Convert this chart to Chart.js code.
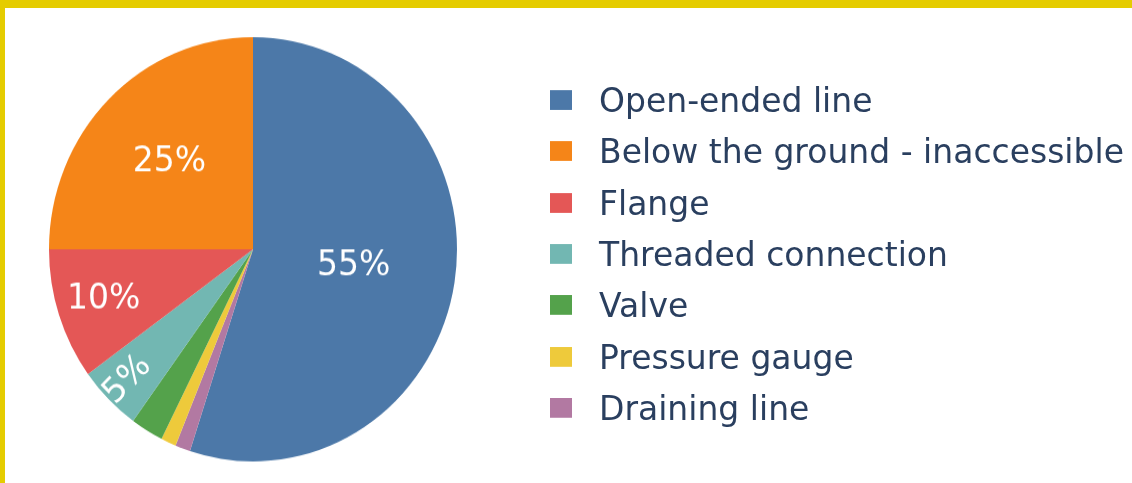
<!DOCTYPE html>
<html>
<head>
<meta charset="utf-8">
<script src="https://cdn.jsdelivr.net/npm/chart.js@4"></script>
<style>
    html, body { margin: 0; padding: 0; background: #fff; }
    #frame {
        position: absolute; left: 0; top: 0;
        width: 1132px; height: 483px;
        box-sizing: border-box;
        border-top: 8px solid #e5cc00;
        border-left: 5px solid #e5cc00;
        background: #fff;
        overflow: hidden;
    }
    /* the whole figure is a touch taller than it is wide */
    #stage {
        position: absolute; left: 0; top: 0;
        width: 1127px; height: 457px;
        transform: scaleY(1.04);
        transform-origin: 0 0;
    }
    #pieBox { position: absolute; left: 0; top: 0; width: 500px; height: 457px; }
    #legend {
        position: absolute; left: 545px; top: 64px;
        margin: 0; padding: 0; list-style: none;
        font-family: "DejaVu Sans", Verdana, sans-serif;
        font-size: 33px; color: #2a3f5f;
        white-space: nowrap;
    }
    #legend li { height: 49.3px; display: flex; align-items: center; }
    #legend .swatch { display: inline-block; width: 22px; height: 19px; margin-right: 27px; }
</style>
</head>
<body>
<div id="frame">
    <div id="stage">
        <div id="pieBox"><canvas id="leakChart" width="500" height="457"></canvas></div>
        <ul id="legend"></ul>
    </div>
</div>
<script>
// Leak sources, in legend order
const categories = [
    'Open-ended line',
    'Below the ground - inaccessible',
    'Flange',
    'Threaded connection',
    'Valve',
    'Pressure gauge',
    'Draining line'
];
const shares = [55, 25, 10, 5, 2.6, 1.2, 1.2];
const colors = ['#4c78a8', '#f58518', '#e45756', '#72b7b2', '#54a24b', '#eeca3b', '#b279a2'];

// Slices run clockwise from 12 o'clock in this order
const sliceOrder = [0, 6, 5, 4, 3, 2, 1];
// Distance of each percent label from the centre, as a fraction of the radius
const labelRadius = [0.5, 0.58, 0.77, 0.87, 0.8, 0.8, 0.8];

// Draw the percent text inside the slices that are big enough
const percentLabels = {
    id: 'percentLabels',
    afterDatasetsDraw(chart) {
        const ctx = chart.ctx;
        const meta = chart.getDatasetMeta(0);
        const values = chart.data.datasets[0].data;
        const total = values.reduce((a, b) => a + b, 0);

        ctx.save();
        ctx.fillStyle = '#ffffff';
        ctx.font = '33px "DejaVu Sans", Verdana, sans-serif';
        ctx.textAlign = 'center';
        ctx.textBaseline = 'middle';

        meta.data.forEach((arc, i) => {
            const pct = values[i] / total * 100;
            if (pct < 4) return;
            const k = sliceOrder[i];
            const { x, y, startAngle, endAngle, outerRadius } =
                arc.getProps(['x', 'y', 'startAngle', 'endAngle', 'outerRadius'], true);
            const mid = (startAngle + endAngle) / 2;
            const r = outerRadius * labelRadius[k];

            ctx.save();
            ctx.translate(x + Math.cos(mid) * r, y + Math.sin(mid) * r);
            // narrow slice: run the text along the radius
            if (pct < 8) ctx.rotate(mid + Math.PI);
            ctx.fillText(Math.round(pct) + '%', 0, 0);
            ctx.restore();
        });
        ctx.restore();
    }
};

const ctx = document.getElementById('leakChart').getContext('2d');
new Chart(ctx, {
    type: 'pie',
    data: {
        labels: sliceOrder.map(i => categories[i]),
        datasets: [{
            data: sliceOrder.map(i => shares[i]),
            backgroundColor: sliceOrder.map(i => colors[i]),
            borderWidth: 0
        }]
    },
    options: {
        responsive: false,
        animation: false,
        devicePixelRatio: 1,
        layout: {
            padding: { left: 44, right: 48, top: 28, bottom: 21 }
        },
        plugins: {
            legend: { display: false },
            tooltip: { enabled: false }
        }
    },
    plugins: [percentLabels]
});

// Legend list built from the same arrays
document.getElementById('legend').innerHTML = categories.map((name, i) => `
    <li><span class="swatch" style="background:${colors[i]}"></span>${name}</li>
`).join('');
</script>
</body>
</html>
